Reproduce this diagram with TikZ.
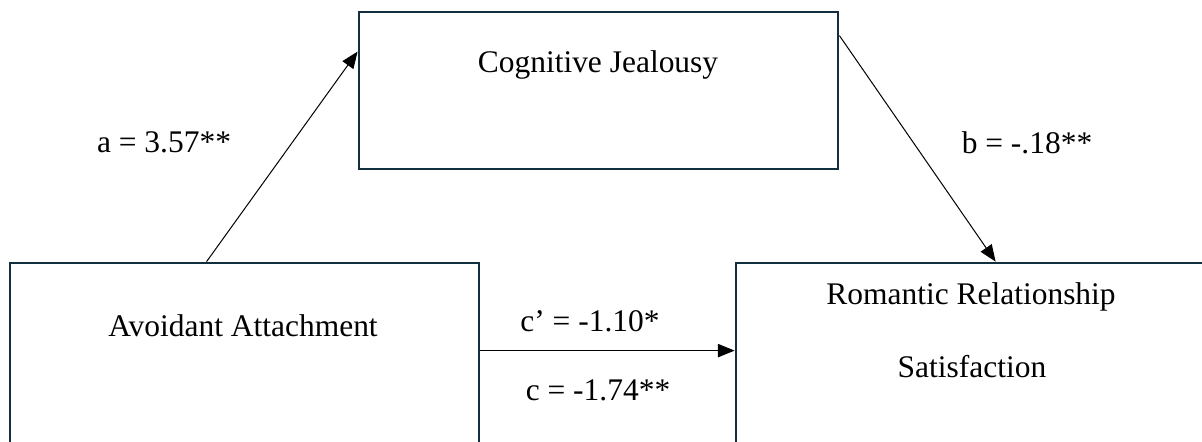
\documentclass[tikz,border=0pt]{standalone}
\usepackage{fontspec}
\setmainfont{Liberation Serif}
\usetikzlibrary{arrows.meta,calc}
\definecolor{frame}{HTML}{132F3F}

\begin{document}
\begin{tikzpicture}[x=0.75pt,y=-0.75pt,box/.style={draw=frame,line width=2.1pt,fill=white,inner sep=0pt},lbl/.style={anchor=base,inner sep=0pt,font=\fontsize{23.6}{28}\selectfont},conn/.style={-{Triangle[length=12.5pt,width=10pt]},line width=0.75pt,black}]
\clip (0,0) rectangle (1202,442);
\node[box,minimum width=359.25pt,minimum height=117.75pt] (cj) at (598.5,90.5){};
\node[box,minimum width=351.75pt,minimum height=162.75pt] (aa) at (244.5,371.5){};
\node[box,minimum width=354pt,minimum height=162.75pt] (rs) at (972,371.5){};
\node[lbl] (cjt) at (598,73){Cognitive Jealousy};
\node[lbl] (aat) at (243,336){Avoidant Attachment};
\node[lbl] (rst1) at (971,304){Romantic Relationship};
\node[lbl] (rst2) at (972,377){Satisfaction};
\coordinate (a0) at ($(aa.north west)+(198,0)$);\coordinate (a1) at ($(cj.north west)+(0,41)$);
\coordinate (b0) at ($(cj.north east)+(0,25)$);\coordinate (b1) at ($(rs.north west)+(261,0)$);
\coordinate (c0) at ($(aa.north east)+(0,89)$);\coordinate (c1) at ($(rs.north west)+(0,89)$);
\draw[conn] (a0)--(a1);\draw[conn] (b0)--(b1);\draw[conn] (c0)--(c1);
\node[lbl] (la) at (164,153){a = 3.57**};
\node[lbl] (lb) at (1027,154){b = -.18**};
\node[lbl] (lc1) at (590,331){c’ = -1.10*};
\node[lbl] (lc2) at (598,400){c = -1.74**};
\end{tikzpicture}
\end{document}
